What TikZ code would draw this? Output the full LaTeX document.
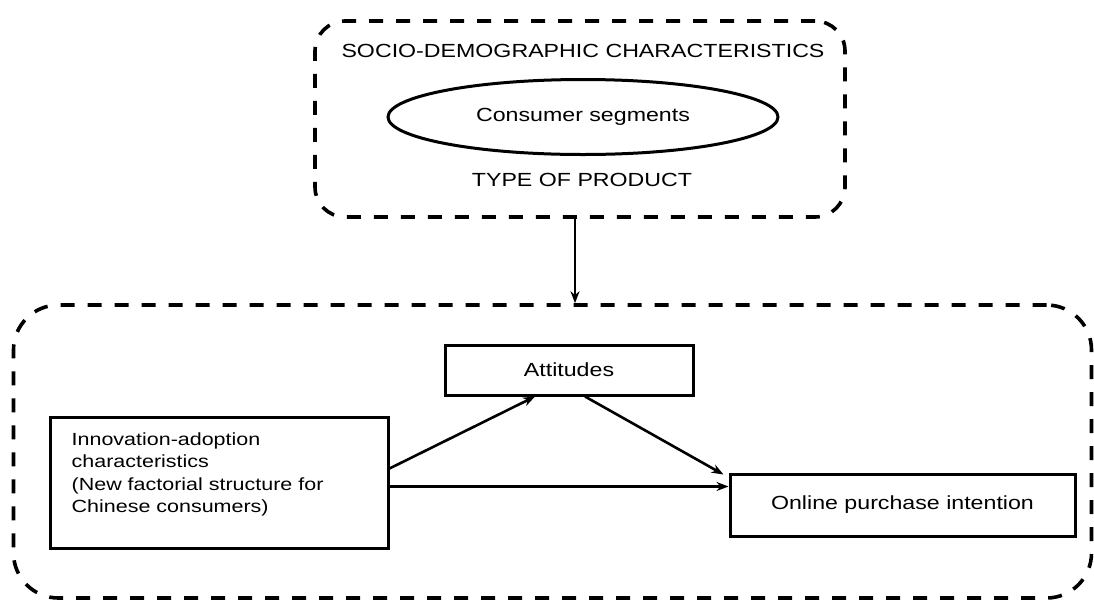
\documentclass[tikz,border=0pt]{standalone}
\usepackage{fontspec}
\setmainfont{Liberation Sans}[FakeStretch=1.22]
\usetikzlibrary{shapes.geometric,arrows.meta,calc}
\begin{document}
\begin{tikzpicture}[x=1pt,y=-1pt,
  dashbox/.style={draw, line width=3.6pt, dash pattern=on 14pt off 13pt, rectangle},
  solidbox/.style={draw, line width=3pt, rectangle, inner sep=0pt},
  lbl/.style={font=\fontsize{19}{22}\selectfont},
  conn/.style={line width=2.6pt, -{Stealth[length=12pt,width=9pt]}}]
\useasboundingbox (0,0) rectangle (1094,614);
% upper group
\node[dashbox, rounded corners=30pt, minimum width=530pt, minimum height=196pt] (demo) at (580,119) {};
\node[lbl] (socio) at (583,51) {SOCIO-DEMOGRAPHIC CHARACTERISTICS};
\node[ellipse, draw, line width=3pt, minimum width=390pt, minimum height=75pt, inner sep=0pt, lbl] (seg) at (583,117) {Consumer segments};
\node[lbl] (type) at (582,180) {TYPE OF PRODUCT};
% lower group
\node[dashbox, rounded corners=45pt, minimum width=1078pt, minimum height=293pt] (model) at (552.5,451.5) {};
\node[solidbox, lbl, minimum width=248pt, minimum height=50pt] (att) at (569,370) {Attitudes};
\node[solidbox, minimum width=338pt, minimum height=131pt] (inno) at (219,482.5) {};
\node[anchor=west, align=left, inner sep=0pt, font=\fontsize{17.6}{22.5}\selectfont] (innotxt)
  at ($(inno.west)+(23,-8)$)
  {Innovation-adoption\\characteristics\\(New factorial structure for\\Chinese consumers)};
\node[solidbox, lbl, minimum width=345pt, minimum height=62pt] (online) at (902.5,505) {Online purchase intention};
% connectors
\coordinate (d0) at ($(demo.south)+(-5,0)$);
\draw[conn] (d0) -- (d0 |- model.north);
\draw[conn] ($(inno.east)+(0,-14)$) -- ($(att.south)+(-34,0)$);
\draw[conn] ($(att.south)+(16,0)$) -- ($(online.north west)+(-5,2)$);
\coordinate (h0) at ($(inno.east)+(0,4)$);
\draw[conn] (h0) -- (h0 -| online.west);
\end{tikzpicture}
\end{document}
